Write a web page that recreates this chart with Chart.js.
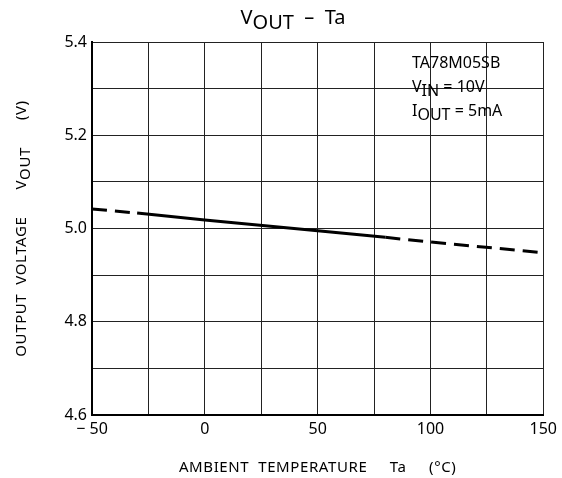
<!DOCTYPE html>
<html>
<head>
<meta charset="utf-8">
<script src="https://cdn.jsdelivr.net/npm/chart.js@4.4.0/dist/chart.umd.min.js"></script>
<style>
  html, body { margin: 0; padding: 0; background: #fff; }
  #wrap { width: 562px; height: 478px; position: relative; }
</style>
</head>
<body>
<div id="wrap"><canvas id="myChart"></canvas></div>
<script>
// data
var temps = [-50, -30, 0, 50, 80, 100, 150];
var vout = [5.042, 5.033, 5.018, 4.995, 4.981, 4.971, 4.948];
// solid part of the curve, dashed outside
var solidFrom = -30;
var solidTo = 80;

var xTicks = [-50, 0, 50, 100, 150];
var yTicks = [4.6, 4.8, 5.0, 5.2, 5.4];

var FONT = "'Noto Sans', 'DejaVu Sans', sans-serif";

// draws a run of [text, isSub] pieces
function drawParts(c, parts, x, y, size, align) {
    var w = 0;
    c.font = size + "px " + FONT;
    parts.forEach(function (p) {
        w += c.measureText(p[0]).width;
    });
    var sx = x;
    if (align === "center") sx = x - w / 2;
    if (align === "right") sx = x - w;
    c.textAlign = "left";
    c.textBaseline = "alphabetic";
    parts.forEach(function (p) {
        c.fillText(p[0], sx, y + (p[1] ? size * 0.25 : 0));
        sx += c.measureText(p[0]).width;
    });
}

var textPlugin = {
    id: "texts",
    afterDraw: function (chart) {
        var c = chart.ctx;
        var area = chart.chartArea;
        c.save();
        c.fillStyle = "#000";
        // title
        drawParts(c, [["V", false], ["OUT", true], ["  –  Ta", false]], 293, 24, 20, "center");
        // condition box
        drawParts(c, [["TA78M05SB", false]], 412, 68, 16, "left");
        drawParts(c, [["V", false], ["IN", true], [" = 10V", false]], 412, 92, 16, "left");
        drawParts(c, [["I", false], ["OUT", true], [" = 5mA", false]], 412, 116, 16, "left");
        // x title
        c.letterSpacing = "0.6px";
        drawParts(c, [["AMBIENT  TEMPERATURE     Ta     (°C)", false]], (area.left + area.right) / 2, 472, 15, "center");
        // y title
        c.translate(26, (area.top + area.bottom) / 2);
        c.rotate(-Math.PI / 2);
        drawParts(c, [["OUTPUT  VOLTAGE      V", false], ["OUT", true], ["      (V)", false]], 0, 0, 15, "center");
        c.restore();
    }
};

var ctx = document.getElementById("myChart");

var chart = new Chart(ctx, {
    type: "line",
    data: {
        datasets: [{
            data: temps.map(function (t, i) { return { x: t, y: vout[i] }; }),
            borderColor: "#000",
            borderWidth: 3,
            pointRadius: 0,
            tension: 0,
            segment: {
                borderDash: function (s) {
                    var x0 = s.p0.parsed.x;
                    return (x0 < solidFrom || x0 >= solidTo) ? [15, 8] : [];
                }
            }
        }]
    },
    options: {
        responsive: true,
        maintainAspectRatio: false,
        animation: false,
        layout: { padding: { left: 0, right: 17, top: 42, bottom: 0 } },
        plugins: {
            legend: { display: false },
            tooltip: { enabled: false }
        },
        scales: {
            x: {
                type: "linear",
                min: -50,
                max: 150,
                afterFit: function (s) { s.height = 63; },
                border: { color: "#000", width: 2 },
                grid: { color: "#222", lineWidth: 1, drawTicks: false },
                ticks: {
                    stepSize: 25,
                    padding: 5,
                    color: "#000",
                    font: { family: FONT, size: 16 },
                    maxRotation: 0,
                    autoSkip: false,
                    callback: function (v) {
                        if (xTicks.indexOf(v) < 0) return "";
                        return v < 0 ? "− " + Math.abs(v) : "" + v;
                    }
                }
            },
            y: {
                min: 4.6,
                max: 5.4,
                afterFit: function (s) { s.width = 92; },
                border: { color: "#000", width: 2 },
                grid: { color: "#222", lineWidth: 1, drawTicks: false },
                ticks: {
                    stepSize: 0.1,
                    padding: 5,
                    color: "#000",
                    font: { family: FONT, size: 16 },
                    autoSkip: false,
                    callback: function (v) {
                        var hit = yTicks.filter(function (t) { return Math.abs(t - v) < 1e-6; });
                        return hit.length ? hit[0].toFixed(1) : "";
                    }
                }
            }
        }
    },
    plugins: [textPlugin]
});
</script>
</body>
</html>
